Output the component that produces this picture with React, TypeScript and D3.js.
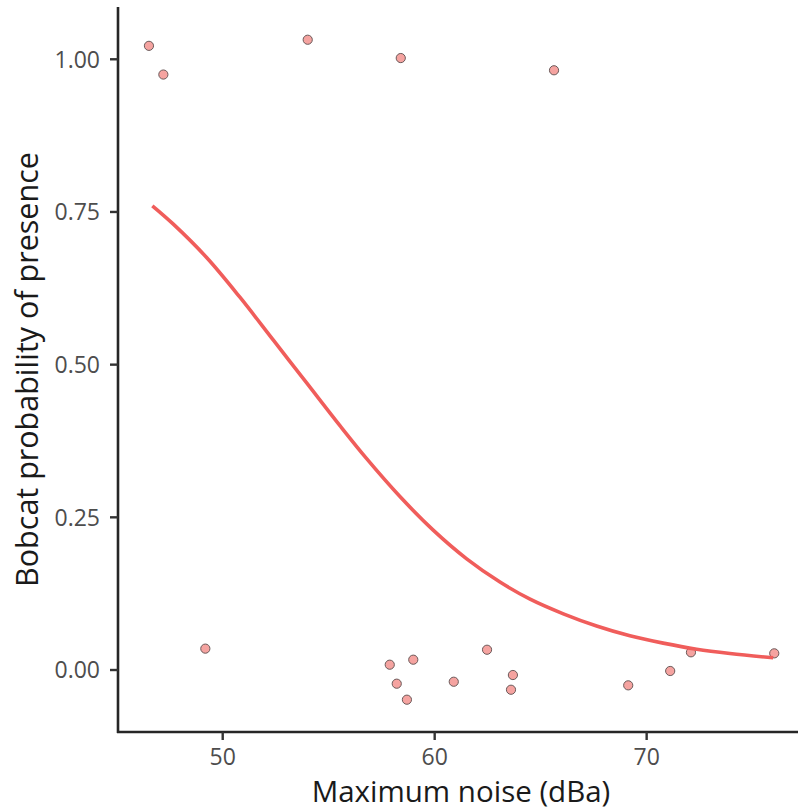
import React from "react";
import * as d3 from "d3";

const pointX = [46.52, 47.2, 54.01, 58.4, 65.63, 49.18, 57.88, 58.99, 58.21, 58.69, 60.9, 62.47, 63.69, 63.6, 69.13, 71.11, 72.09, 76.02];
const pointY = [1.022, 0.975, 1.032, 1.002, 0.982, 0.035, 0.0087, 0.0169, -0.0224, -0.0486, -0.0192, 0.0332, -0.0082, -0.0323, -0.0251, -0.0016, 0.029, 0.0273];

const curveX = [46.68, 47.67, 49.25, 50.82, 52.39, 53.96, 55.53, 56.79, 58.36, 59.93, 61.51, 63.08, 64.5, 66.07, 67.64, 69.21, 70.78, 72.36, 73.93, 75.97];
const curveY = [0.76, 0.73, 0.675, 0.61, 0.54, 0.47, 0.4, 0.346, 0.284, 0.229, 0.182, 0.144, 0.116, 0.092, 0.072, 0.056, 0.044, 0.034, 0.027, 0.02];

const xTicks = [50, 60, 70];
const yTicks = [0, 0.25, 0.5, 0.75, 1.0];

const W = 798;
const H = 811;
const left = 118;
const right = 798;
const top = 7;
const bottom = 732;

export default function App() {
  const x = d3.scaleLinear().domain([45.06, 77.14]).range([left, right]);
  const y = d3.scaleLinear().domain([-0.1015, 1.0856]).range([bottom, top]);
  const line = d3
    .line<number>()
    .x((_, i) => x(curveX[i]))
    .y((d) => y(d))
    .curve(d3.curveCatmullRom.alpha(0.5));
  const font = "'Open Sans', sans-serif";
  return (
    <svg
      width={W}
      height={H}
      style={{ position: "absolute", left: 0, top: 0, background: "#fff" }}
      fontFamily={font}
    >
      <rect width={W} height={H} fill="#fff" />
      {pointX.map((px, i) => (
        <circle key={i} cx={x(px)} cy={y(pointY[i])} r={4.6} fill="#f5a3a0" stroke="#6b5a5a" strokeWidth={1} />
      ))}
      <path d={line(curveY) || ""} fill="none" stroke="#f05d5b" strokeWidth={3.6} />
      {/* axes */}
      <line x1={left} x2={left} y1={top} y2={bottom + 1} stroke="#262626" strokeWidth={2.6} />
      <line x1={left - 1} x2={right} y1={bottom} y2={bottom} stroke="#262626" strokeWidth={2.6} />
      {yTicks.map((t) => (
        <g key={t}>
          <line x1={left - 8} x2={left} y1={y(t)} y2={y(t)} stroke="#333" strokeWidth={2.4} />
          <text x={100} y={y(t)} dy="0.36em" textAnchor="end" fontSize={23} fill="#4d4d4d">
            {t.toFixed(2)}
          </text>
        </g>
      ))}
      {xTicks.map((t) => (
        <g key={t}>
          <line x1={x(t)} x2={x(t)} y1={bottom} y2={bottom + 8} stroke="#333" strokeWidth={2.4} />
          <text x={x(t)} y={765} textAnchor="middle" fontSize={23} fill="#4d4d4d">
            {t}
          </text>
        </g>
      ))}
      <text x={(left + right) / 2 + 3} y={802} textAnchor="middle" fontSize={29.5} fill="#1a1a1a">
        Maximum noise (dBa)
      </text>
      <text
        transform={`translate(38, ${(top + bottom) / 2}) rotate(-90)`}
        textAnchor="middle"
        fontSize={30.5}
        fill="#1a1a1a"
      >
        Bobcat probability of presence
      </text>
    </svg>
  );
}
